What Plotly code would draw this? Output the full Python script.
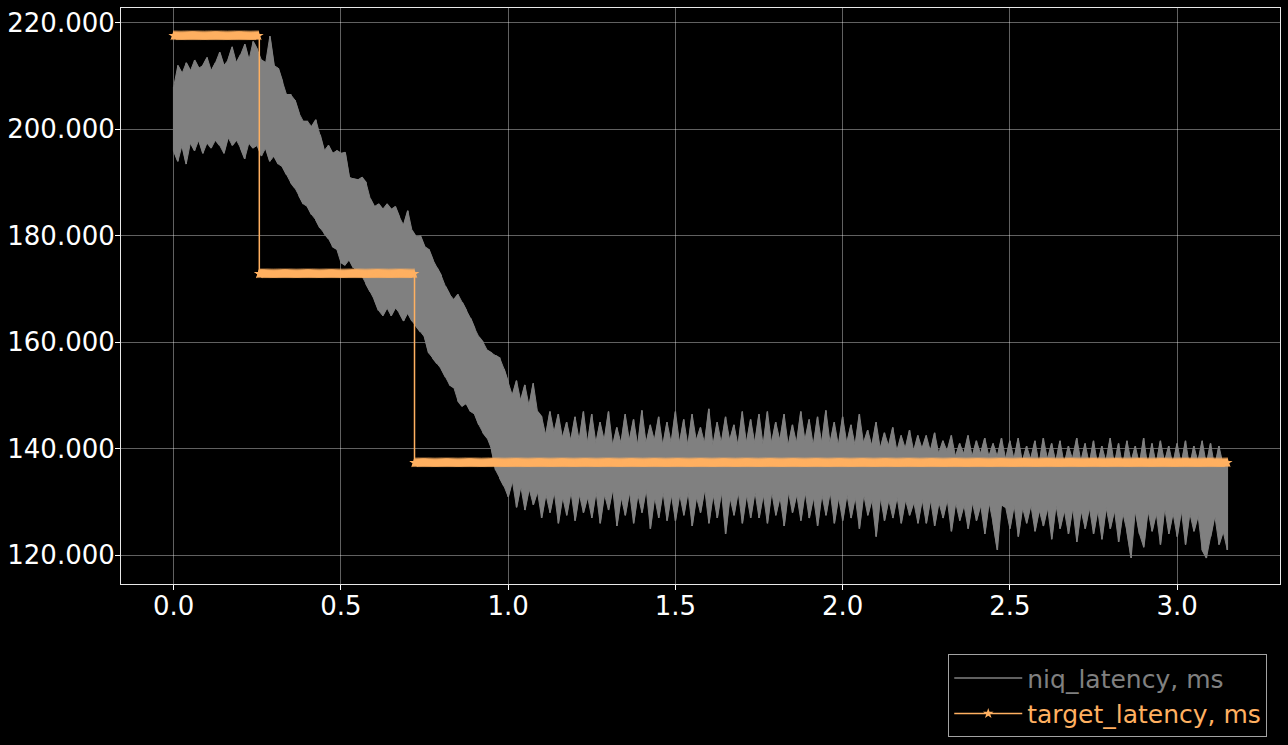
import numpy as np
import plotly.graph_objects as go

# ---- data ----
sample_step = 0.0125  # seconds between niq samples
target_sample_step = 0.003125  # seconds between target samples

niq_upper = [
    208, 212, 210.5, 212.5, 211, 213, 211.5, 212, 213.5, 211, 212.5, 214.5, 212, 213, 215.5, 212.5, 214, 216, 213, 216.5,
    215, 213, 212.5, 217.5, 212, 211.5, 209, 206.5, 206.5, 205.5, 203, 201.5, 201.5, 200.5, 201.8, 199, 196, 197, 195.5, 196,
    195.5, 195.7, 191, 190.7, 190.5, 191, 190, 187, 185.5, 186, 185, 186, 185, 185.5, 183.5, 182, 184.7, 181, 179.8, 180,
    178, 177.5, 175.5, 174, 172.5, 170.5, 169, 168, 169, 167.5, 166, 164.5, 162.6, 161, 160, 158.5, 158, 157.5, 157, 155,
    152.5, 150, 152.8, 149, 152, 148, 152.3, 147, 146, 142.5, 147, 143, 146.5, 142, 145, 141.5, 146, 141.5, 147, 141,
    146.5, 141, 145, 141.5, 147, 140.5, 144, 141, 146.5, 141.5, 145.5, 140.5, 147.2, 141, 144.5, 141.5, 146, 140.5, 145, 141,
    147, 141, 145.5, 140.5, 146.5, 141.5, 144, 141, 147.5, 140.5, 145, 141, 146, 141.5, 144.5, 140.5, 147, 141, 145.5, 141,
    146.5, 140.5, 147, 141, 145, 141.5, 146.5, 140.5, 144.5, 141, 147, 141.5, 145.5, 140.5, 146, 141, 147.2, 141, 145, 140.5,
    146, 141, 144.5, 140.5, 146.5, 141, 143.5, 140.5, 145, 140, 143, 140.5, 144, 139.5, 142.5, 140, 143.5, 139.5, 142.5, 140,
    142.5, 139.5, 143, 139, 141.5, 139.5, 142.5, 138.5, 141, 139, 142.5, 138.5, 141.5, 139, 142, 138.5, 141, 138.5, 142, 138,
    141.5, 138, 142, 137.5, 140.5, 138, 141.5, 137, 142, 138, 141, 137.5, 141.5, 137, 140.5, 138, 142, 137.5, 141, 137,
    141.5, 137, 140.5, 137.5, 142, 137, 141, 136.5, 141.5, 137.5, 140.5, 137, 142, 136.5, 141, 137, 141.5, 137.5, 140.5, 137,
    141, 137, 141.5, 136.5, 140.5, 137.5, 141.5, 137, 141, 136.5, 140.5, 137, 137.5,
]

niq_lower = [
    196, 194, 197, 193.5, 197.5, 196, 198, 195.5, 197.5, 196.5, 198, 197, 195.5, 198.5, 197, 198, 196.5, 194.5, 197.5, 196.5,
    197, 195, 196.5, 194, 195, 193.5, 193, 191.5, 190, 189, 187.5, 186, 185.5, 184, 183, 181.5, 180.5, 179.5, 178, 177.5,
    175, 174.5, 175.5, 174, 173.5, 172.5, 171, 169.5, 168, 166, 165, 166.5, 165, 166.5, 165.5, 164, 165.5, 164, 163, 162,
    161, 158, 157, 156, 155, 153.5, 152, 151.5, 149, 148, 148.5, 147, 146.5, 144.5, 143, 142, 140, 136, 134.5, 133,
    131, 134, 129, 133, 128.5, 132.5, 129.5, 132, 127, 131.5, 128, 132, 126, 131, 127.5, 132, 126.5, 131.5, 128, 131,
    127, 132, 126, 131.5, 128.5, 132.5, 125.5, 131, 127.5, 132, 126, 131.5, 128, 132.5, 125, 131, 127, 132, 126.5, 131.5,
    126.5, 131.5, 127.5, 132, 125.5, 131, 128, 132.5, 126, 131.5, 127, 132, 124, 131, 127.5, 132, 126, 131.5, 127, 132,
    127, 131.5, 126, 132, 127.5, 131, 125.5, 132, 128, 131.5, 126.5, 132, 127, 131, 125.5, 131.5, 127.5, 132, 126, 131,
    126.5, 131.5, 127, 131, 125, 131.5, 127.5, 130.5, 123.5, 131, 126.5, 130.5, 127, 131, 126, 130.5, 127.5, 130, 126, 130.5,
    126, 130.5, 125.5, 130, 127, 130.5, 124.5, 130, 126.5, 129.5, 125, 130, 126.5, 129.5, 124, 130, 126, 121, 129.5, 129,
    125, 129.5, 123.5, 129, 126, 129.5, 124.5, 128.5, 125.5, 129, 123, 129.5, 125, 128.5, 124, 129, 122.5, 128.5, 125, 129,
    124, 128.5, 123, 129, 125, 128.5, 122.5, 128, 124.5, 119.5, 128.5, 124, 121.5, 128.5, 124.5, 128, 122, 129, 124, 128,
    123.5, 128.5, 122, 128, 124.5, 127.5, 121, 119.5, 123.5, 127.5, 122, 124.5, 121,
]

target_change_t = [0.0, 0.256, 0.72]
target_levels = [217.6, 172.9, 137.4]
target_end_t = 3.15

y_ticks = [120, 140, 160, 180, 200, 220]
x_ticks = [0.0, 0.5, 1.0, 1.5, 2.0, 2.5, 3.0]

GRAY = "#808080"
ORANGE = "#FFB061"
FONT = "DejaVu Sans"

n = min(len(niq_upper), len(niq_lower))
niq_upper = niq_upper[:n]
niq_lower = niq_lower[:n]
niq_t = [round(i * sample_step, 4) for i in range(n)]

# zig-zag path through the samples (line trace) and envelope polygon (fill)
zx, zy = [], []
for i, t in enumerate(niq_t):
    zx += [t, t]
    if i % 2 == 0:
        zy += [niq_upper[i], niq_lower[i]]
    else:
        zy += [niq_lower[i], niq_upper[i]]

poly_x = niq_t + niq_t[::-1] + [niq_t[0]]
poly_y = niq_upper + niq_lower[::-1] + [niq_upper[0]]

# target series: logged at its own sample times, plus change points
m = int(round(target_end_t / target_sample_step)) + 1
tt = sorted(set(round(i * target_sample_step, 6) for i in range(m)) | set(target_change_t))
ty = []
for t in tt:
    lvl = target_levels[0]
    for ct, lv in zip(target_change_t, target_levels):
        if t >= ct:
            lvl = lv
    ty.append(lvl)

fig = go.Figure()
fig.add_trace(go.Scatter(
    x=poly_x, y=poly_y, mode="lines", fill="toself",
    fillcolor=GRAY, line=dict(color=GRAY, width=1),
    showlegend=False, hoverinfo="skip",
))
fig.add_trace(go.Scatter(
    x=zx, y=zy, mode="lines", line=dict(color=GRAY, width=1.5),
    name='<span style="color:#808080">niq_latency, ms</span>',
))
fig.add_trace(go.Scatter(
    x=tt, y=ty, mode="lines+markers", line=dict(color=ORANGE, width=1.5, shape="hv"),
    marker=dict(symbol="star", size=8, color=ORANGE, line=dict(width=0)),
    name='<span style="color:#FFB061">target_latency, ms</span>',
))

axis_common = dict(
    showgrid=True, gridcolor="rgba(255,255,255,0.38)", gridwidth=1,
    showline=True, linecolor="#e8e8e8", linewidth=1, mirror=True,
    ticks="outside", ticklen=5, tickcolor="#ffffff", tickwidth=1,
    tickfont=dict(family=FONT, size=26, color="#ffffff"),
    zeroline=False,
)

fig.update_layout(
    width=1288, height=745,
    paper_bgcolor="#000000", plot_bgcolor="#000000",
    margin=dict(l=118, r=7, t=7, b=161),
    font=dict(family=FONT, color="#ffffff", size=25),
    xaxis=dict(range=[-0.1575, 3.3075], tickvals=x_ticks, tickformat=".1f",
               ticklabelstandoff=-6, **axis_common),
    yaxis=dict(range=[114.6, 222.8], tickvals=y_ticks, tickformat=".3f",
               ticklabelstandoff=-5, **axis_common),
    legend=dict(
        x=0.989, y=-0.122, xanchor="right", yanchor="top",
        bgcolor="#000000", bordercolor="rgba(204,204,204,0.8)", borderwidth=1,
        font=dict(family=FONT, size=25, color="#ffffff"),
        traceorder="normal", itemwidth=68,
    ),
    showlegend=True,
)

fig.write_html(
    "out.html",
    config={"displayModeBar": False},
    post_script="document.body.style.margin='0';document.body.style.background='#000';",
)
